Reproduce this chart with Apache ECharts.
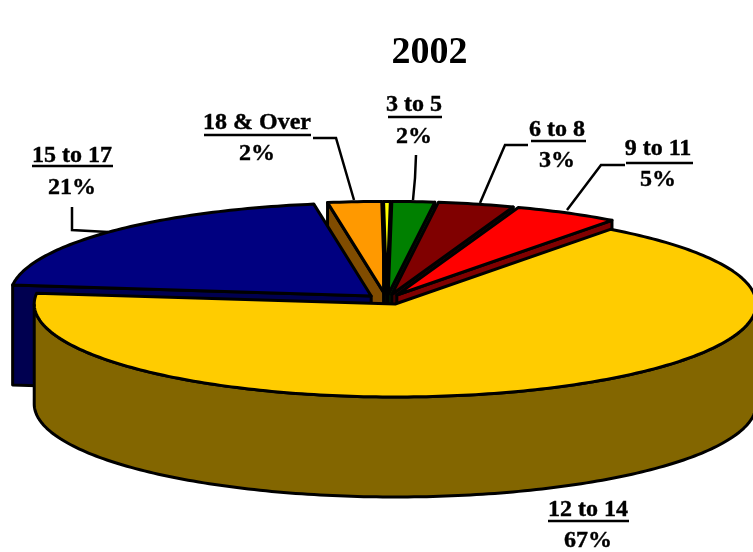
<!DOCTYPE html>
<html>
<head>
<meta charset="utf-8">
<style>html,body{margin:0;padding:0;background:#fff}#c{width:753px;height:552px}</style>
<script src="https://cdn.jsdelivr.net/npm/echarts@6/dist/echarts.min.js"></script>
</head>
<body>
<div id="c"></div>
<script>
// Data, clockwise from the top of the pie
const chartTitle = '2002';
const categories = ['', '3 to 5', '6 to 8', '9 to 11', '12 to 14', '15 to 17', '18 & Over'];
const values = [0.3, 1.9, 3.4, 4.7, 66.7, 20.6, 2.4];
const topColors = ['#FFFF00', '#008000', '#800000', '#FF0000', '#FFCC00', '#000080', '#FF9900'];
const sideColors = ['#808000', '#004000', '#400000', '#800000', '#836600', '#000050', '#804C00'];
// Layout
const drawOrder = [6, 5, 0, 1, 2, 3, 4];
const startAngle = 90.5, CX = 386.7, CY = 299.4, RX = 361, RY = 93, DEPTH = 100, EXPLODE = 21.5, EXPLODE_Y = 5;
const labelPos = [null, [414, 105, 137], [557, 130, 161], [658, 149, 180], [588, 510, 541], [72, 156, 188], [257, 123, 154]];
const underline = [null, [388, 442, 117], [531, 586, 141], [626, 693, 163], [548, 629, 521], [32, 113, 166], [204, 311, 135]];
const leaders = [null,
  [[416, 155], [415, 178], [413, 200]],
  [[528, 145], [505, 145], [480, 203]],
  [[625, 165], [601, 165], [567, 210]],
  null,
  [[72, 207], [72, 230], [108, 232]],
  [[313, 138], [336, 138], [354, 200]]];

const total = values.reduce((a, b) => a + b, 0);
const spans = [];
values.reduce((acc, v) => { const next = acc - v / total * 360; spans.push([acc, next]); return next; }, startAngle);
const rad = d => d * Math.PI / 180;

function geometry(i) {
  const [a1, a2] = spans[i];
  const mid = rad((a1 + a2) / 2);
  const cx = CX + EXPLODE * Math.cos(mid), cy = CY - EXPLODE_Y * Math.sin(mid);
  const pt = (d, dy) => [cx + RX * Math.cos(rad(d)), cy - RY * Math.sin(rad(d)) + (dy || 0)];
  return { a1, a2, cx, cy, pt };
}
function arc(g, from, to, dy) {
  const pts = [], n = Math.max(2, Math.ceil(Math.abs(to - from)));
  for (let k = 0; k <= n; k++) pts.push(g.pt(from + (to - from) * k / n, dy));
  return pts;
}
const lineStyle = (fill) => ({ fill, stroke: '#000', lineWidth: 3, lineJoin: 'round' });

function renderSlice(params, api) {
  const i = api.value(0), g = geometry(i), children = [];
  const side = sideColors[i];
  const face = d => ({ type: 'polygon', shape: { points: [[g.cx, g.cy], g.pt(d), g.pt(d, DEPTH), [g.cx, g.cy + DEPTH]] }, style: lineStyle(side) });
  if (Math.cos(rad(g.a1)) < 0) children.push(face(g.a1));
  if (Math.cos(rad(g.a2)) > 0) children.push(face(g.a2));
  const lo = Math.max(g.a2, -180), hi = Math.min(g.a1, 0);
  if (hi > lo) {
    children.push({ type: 'polygon', shape: { points: arc(g, lo, hi, 0).concat(arc(g, hi, lo, DEPTH)) }, style: lineStyle(side) });
  }
  children.push({ type: 'polygon', shape: { points: [[g.cx, g.cy]].concat(arc(g, g.a1, g.a2, 0)) }, style: lineStyle(topColors[i]) });
  return { type: 'group', children };
}
const FONT = 'bold 24px "Liberation Serif", "Times New Roman", serif';
const textStyle = (text, x, y) => ({ text, x, y, align: 'center', verticalAlign: 'middle', font: FONT, fill: '#000', stroke: '#000', lineWidth: 0.4 });
function renderLabel(params, api) {
  const i = api.value(0), children = [], p = labelPos[i], u = underline[i];
  if (!p) return { type: 'group', children };
  children.push({ type: 'text', style: textStyle(categories[i], p[0], p[1]) });
  children.push({ type: 'text', style: textStyle(Math.round(values[i]) + '%', p[0], p[2]) });
  children.push({ type: 'line', shape: { x1: u[0], y1: u[2], x2: u[1], y2: u[2] }, style: { stroke: '#000', lineWidth: 2.5 } });
  if (leaders[i]) children.push({ type: 'polyline', shape: { points: leaders[i] }, style: { stroke: '#000', lineWidth: 2.5, fill: null } });
  return { type: 'group', children };
}

const chart = echarts.init(document.getElementById('c'), null, { renderer: 'canvas' });
chart.setOption({
  animation: false,
  backgroundColor: '#fff',
  title: { text: chartTitle, left: 424.5, top: 29, textAlign: 'center', textStyle: { fontFamily: '"Liberation Serif"', fontWeight: 'bold', fontSize: 38, color: '#000' } },
  tooltip: { show: false },
  series: [
    { type: 'custom', coordinateSystem: 'none', silent: true, clip: false, data: drawOrder.map(i => [i]), renderItem: renderLabel, z: 1 },
    { type: 'custom', coordinateSystem: 'none', silent: true, clip: false, data: drawOrder.map(i => [i]), renderItem: renderSlice, z: 2 }
  ]
});
</script>
</body>
</html>
